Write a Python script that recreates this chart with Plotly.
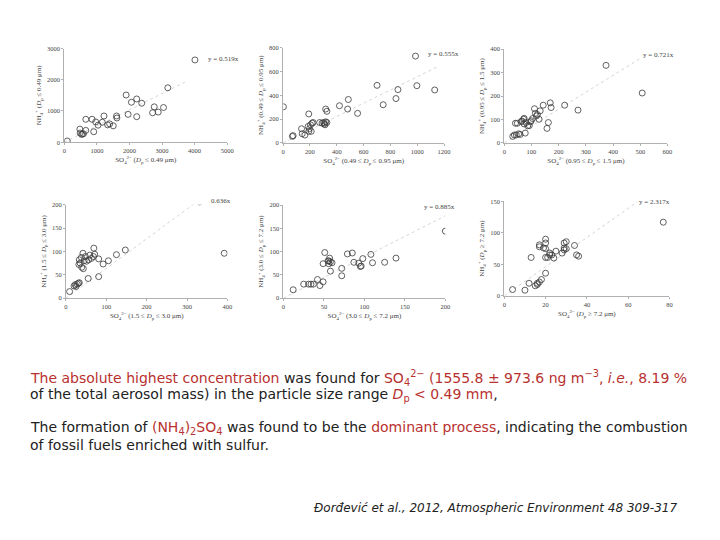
import plotly.graph_objects as go

# SO4(2-) vs NH4(+) per size range
so4_1 = [90, 477, 487, 528, 558, 589, 660, 660, 904, 853, 964, 1036, 1167, 1218, 1330, 1391, 1503, 1604,
         1614, 1898, 1959, 2061, 2223, 2223, 2376, 2711, 2761, 2883, 3046, 3178, 4010]
nh4_1 = [40, 420, 294, 252, 262, 273, 378, 735, 336, 735, 650, 546, 640, 840, 556, 588, 525, 840,
         776, 1511, 892, 1280, 1385, 818, 1249, 944, 1133, 965, 1112, 1742, 2634]

so4_2 = [2, 69, 74, 137, 142, 162, 186, 191, 196, 191, 204, 209, 216, 223, 272, 290, 302, 307, 312, 317,
         317, 326, 326, 420, 481, 486, 555, 700, 746, 841, 856, 987, 997, 1130]
nh4_2 = [303, 55, 61, 119, 77, 66, 138, 97, 119, 243, 152, 97, 166, 171, 171, 166, 171, 160, 152, 177,
         284, 265, 171, 312, 284, 364, 248, 483, 320, 372, 447, 728, 480, 444]

so4_3 = [31, 37, 44, 53, 58, 41, 48, 62, 65, 71, 73, 73, 77, 80, 86, 92, 96, 99, 104, 111, 114, 118, 122,
         128, 132, 143, 157, 162, 169, 172, 222, 271, 374, 507]
nh4_3 = [28, 34, 34, 39, 36, 84, 84, 91, 93, 101, 105, 81, 42, 87, 73, 74, 90, 95, 104, 146, 126, 115, 121,
         101, 137, 161, 62, 87, 171, 151, 161, 140, 331, 213]

so4_4 = [9, 20, 23, 25, 28, 31, 33, 32, 35, 33, 38, 42, 39, 43, 45, 48, 51, 55, 56, 59, 63, 68, 69, 71,
         81, 81, 92, 105, 125, 147, 331, 392]
nh4_4 = [14, 26, 29, 25, 30, 32, 33, 72, 75, 82, 87, 96, 66, 63, 80, 89, 79, 42, 82, 92, 85, 89, 107, 94,
         84, 46, 73, 80, 93, 103, 206, 96]

so4_5 = [12, 25, 31, 34, 37, 42, 45, 49, 49, 51, 55, 56, 56, 57, 58, 58, 60, 72, 72, 79, 85, 87, 93, 95,
         96, 98, 108, 110, 125, 139, 200]
nh4_5 = [18, 30, 30, 30, 30, 40, 27, 35, 74, 98, 80, 74, 80, 86, 78, 58, 76, 48, 64, 95, 97, 77, 75, 68,
         69, 85, 94, 76, 77, 86, 144]

so4_6 = [4, 10, 12, 15, 16, 16, 17, 18, 20, 13, 17, 17, 19, 20, 20, 20, 20, 21, 22, 22, 23, 24, 25, 28,
         29, 29, 29, 30, 30, 34, 35, 36, 77]
nh4_6 = [10, 9, 20, 16, 18, 20, 22, 26, 36, 61, 81, 78, 76, 75, 90, 84, 61, 61, 65, 68, 65, 60, 71, 68,
         73, 84, 76, 86, 75, 80, 65, 63, 117]

slopes = [0.519, 0.555, 0.721, 0.636, 0.885, 2.317]
slope_labels = ["y = 0.519x", "y = 0.555x", "y = 0.721x", "0.636x", "y = 0.885x", "y = 2.317x"]
trend_x_end = [3700, 1150, 500, 330, 200, 65]

x_ranges = [[0, 5000], [0, 1200], [0, 600], [0, 400], [0, 200], [0, 80]]
y_ranges = [[0, 3000], [0, 800], [0, 400], [0, 200], [0, 200], [0, 150]]
x_dticks = [1000, 200, 100, 100, 50, 20]
y_dticks = [1000, 200, 100, 50, 50, 50]

size_ranges = ["<i>D</i><sub>p</sub> ≤ 0.49 μm", "0.49 ≤ <i>D</i><sub>p</sub> ≤ 0.95 μm",
               "0.95 ≤ <i>D</i><sub>p</sub> ≤ 1.5 μm", "1.5 ≤ <i>D</i><sub>p</sub> ≤ 3.0 μm",
               "3.0 ≤ <i>D</i><sub>p</sub> ≤ 7.2 μm", "<i>D</i><sub>p</sub> ≥ 7.2 μm"]

# the page has an 8px body margin on every side, so the figure is 704x524
W, H, OFF = 704, 524, 8


def px_x(p):
    return (p - OFF) / W


def px_y(p):
    return 1 - (p - OFF) / H


# panel boxes in page pixels: left, right, top, bottom
boxes = [(63, 228, 45, 140), (284.7, 447.7, 44, 140.7), (508.7, 674, 45.7, 140.7),
         (64.7, 228.3, 203.3, 298), (285, 449, 203.7, 298), (508.7, 676, 200, 295.7)]
label_pos = [(0.867, 0.884), (0.885, 0.93), (0.837, 0.934), (0.886, 1.04), (0.858, 0.979), (0.803, 0.993)]

SERIF = "Liberation Serif, Times New Roman, serif"
SANS = "DejaVu Sans, Verdana, sans-serif"
RED = "#b8312f"

fig = go.Figure()

panels = [(so4_1, nh4_1), (so4_2, nh4_2), (so4_3, nh4_3), (so4_4, nh4_4), (so4_5, nh4_5), (so4_6, nh4_6)]
for i, (xs, ys) in enumerate(panels):
    n = i + 1
    xa = "x" if n == 1 else f"x{n}"
    ya = "y" if n == 1 else f"y{n}"
    left, right, top, bottom = boxes[i]
    fig.add_trace(go.Scatter(x=[0, trend_x_end[i]], y=[0, slopes[i] * trend_x_end[i]],
                             mode="lines", line=dict(color="#d4d4d4", width=1, dash="dot"),
                             xaxis=xa, yaxis=ya, showlegend=False, hoverinfo="skip"))
    fig.add_trace(go.Scatter(x=xs, y=ys, mode="markers",
                             marker=dict(symbol="circle-open", size=6, color="#3a3a3a", line=dict(width=0.8)),
                             xaxis=xa, yaxis=ya, showlegend=False))

    axis_style = dict(showgrid=False, zeroline=False, showline=True, linecolor="#b0b0b0", linewidth=1,
                      ticks="outside", ticklen=2, tickcolor="#b0b0b0",
                      tickfont=dict(family=SERIF, size=6.5, color="#444"))
    fig.layout[f"xaxis{n}" if n > 1 else "xaxis"] = dict(
        axis_style, domain=[px_x(left), px_x(right)], range=x_ranges[i], dtick=x_dticks[i], anchor=ya,
        title=dict(text=f"SO<sub>4</sub><sup>2−</sup> ({size_ranges[i]})",
                   font=dict(family=SERIF, size=7, color="#444"), standoff=4))
    fig.layout[f"yaxis{n}" if n > 1 else "yaxis"] = dict(
        axis_style, domain=[px_y(bottom), px_y(top)], range=y_ranges[i], dtick=y_dticks[i], anchor=xa,
        title=dict(text=f"NH<sub>4</sub><sup>+</sup> ({size_ranges[i]})",
                   font=dict(family=SERIF, size=7, color="#444"), standoff=4))
    fig.add_annotation(text=slope_labels[i], x=label_pos[i][0], y=label_pos[i][1],
                       xref=f"{xa} domain", yref=f"{ya} domain", xanchor="left", yanchor="middle",
                       showarrow=False, font=dict(family=SERIF, size=7, color="#444"))

text_lines = [
    (f"<span style='color:{RED}'>The absolute highest concentration</span> was found for "
     f"<span style='color:{RED}'>SO<sub>4</sub><sup>2−</sup> (1555.8 ± 973.6 ng m<sup>−3</sup>, "
     f"<i>i.e.</i>, 8.19 %</span>", 379),
    (f"of the total aerosol mass) in the particle size range "
     f"<span style='color:{RED}'><i>D</i><sub>p</sub> < 0.49 mm</span>,", 396.5),
    (f"The formation of <span style='color:{RED}'>(NH<sub>4</sub>)<sub>2</sub>SO<sub>4</sub></span> "
     f"was found to be the <span style='color:{RED}'>dominant process</span>, "
     f"indicating the combustion", 430),
    ("of fossil fuels enriched with sulfur.", 447),
]
for txt, ypix in text_lines:
    fig.add_annotation(text=txt, x=px_x(26), y=px_y(ypix), xref="paper", yref="paper",
                       xanchor="left", yanchor="middle", showarrow=False,
                       font=dict(family=SANS, size=14, color="#222"))

fig.add_annotation(text="<i>Đorđević et al., 2012, Atmospheric Environment 48 309-317</i>",
                   x=px_x(686), y=px_y(511), xref="paper", yref="paper",
                   xanchor="right", yanchor="middle", showarrow=False,
                   font=dict(family=SANS, size=12, color="#222"))

fig.update_layout(width=W, height=H, margin=dict(l=0, r=0, t=0, b=0),
                  paper_bgcolor="white", plot_bgcolor="white")

fig.write_html("out.html")
